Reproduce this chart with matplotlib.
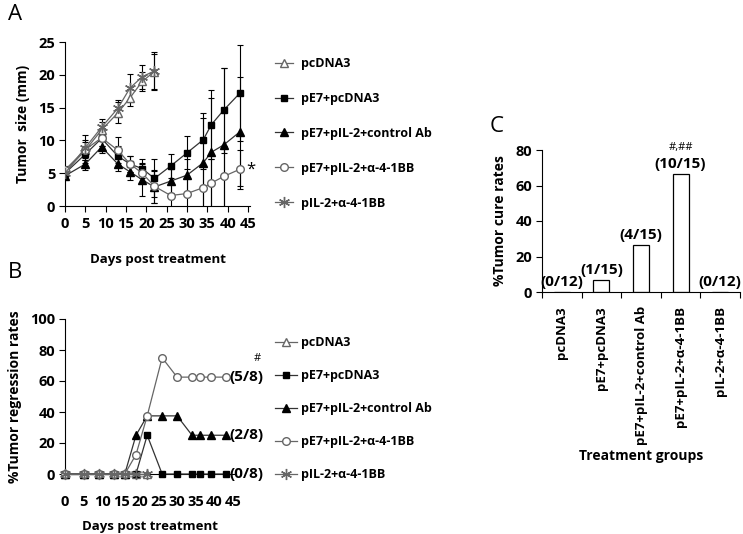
import matplotlib.pyplot as plt
import matplotlib.ticker as mticker

plt.rcParams['font.family'] = ['Open Sans', 'DejaVu Sans']
plt.rcParams['font.weight'] = 'bold'
plt.rcParams['font.size'] = 9

# ---- data ----
days = [0, 5, 9, 13, 16, 19, 22, 26, 30, 34, 36, 39, 43]
days_short = days[:7]

groups = ["pcDNA3", "pE7+pcDNA3", "pE7+pIL-2+control Ab",
          "pE7+pIL-2+\u03b1-4-1BB", "pIL-2+\u03b1-4-1BB"]

# panel A: tumor size (mm), mean and sd
size_pcdna3 = [5.2, 8.5, 11.6, 14.2, 16.5, 19.0, 20.5]
sd_pcdna3 = [0.6, 1.5, 1.2, 1.6, 1.3, 1.5, 2.7]
size_e7 = [5.0, 7.9, 10.3, 7.6, 6.4, 5.7, 4.2, 6.1, 8.1, 10.1, 12.4, 14.6, 17.2]
sd_e7 = [0.6, 1.3, 1.2, 1.5, 1.2, 1.5, 2.9, 1.9, 2.5, 4.1, 5.3, 6.5, 7.3]
size_ctrl = [4.6, 6.4, 9.0, 6.4, 5.2, 4.0, 2.9, 3.8, 4.7, 6.6, 8.2, 9.3, 11.3]
sd_ctrl = [0.5, 0.9, 0.9, 1.1, 1.3, 2.4, 2.4, 1.8, 2.5, 6.8, 8.3, 11.8, 8.3]
size_4_1bb = [5.5, 8.6, 10.4, 8.5, 6.4, 5.0, 3.0, 1.6, 1.9, 2.8, 3.5, 4.5, 5.6]
sd_4_1bb = [0.6, 1.2, 1.2, 2.0, 1.2, 1.5, 2.5, 1.7, 2.5, 2.9, 3.6, 4.6, 3.0]
size_il2 = [5.0, 8.9, 12.0, 14.9, 18.0, 19.7, 20.6]
sd_il2 = [0.6, 1.9, 1.3, 1.3, 2.1, 1.8, 2.9]

# panel B: % tumor regression
reg_pcdna3 = [0, 0, 0, 0, 0, 0, 0]
reg_e7 = [0, 0, 0, 0, 0, 0, 25, 0, 0, 0, 0, 0, 0]
reg_ctrl = [0, 0, 0, 0, 0, 25, 37.5, 37.5, 37.5, 25, 25, 25, 25]
reg_4_1bb = [0, 0, 0, 0, 0, 12.5, 37.5, 75, 62.5, 62.5, 62.5, 62.5, 62.5]
reg_il2 = [0, 0, 0, 0, 0, 0, 0]
reg_end_labels = ["(5/8)", "(2/8)", "(0/8)"]

# panel C: % tumor cure
cure = [0, 6.67, 26.67, 66.67, 0]
cure_labels = ["(0/12)", "(1/15)", "(4/15)", "(10/15)", "(0/12)"]

W, H = 743, 534
fig = plt.figure(figsize=(W / 100, H / 100), dpi=100)
TICK_FS = 10.5


def px_axes(x0, y_top, x1, y_bot):
    return fig.add_axes([x0 / W, 1 - y_bot / H, (x1 - x0) / W, (y_bot - y_top) / H])


def style_axes(ax):
    ax.spines['top'].set_visible(False)
    ax.spines['right'].set_visible(False)
    ax.tick_params(direction='out', length=4, width=0.8, pad=3, labelsize=TICK_FS)
    for lab in ax.get_xticklabels() + ax.get_yticklabels():
        lab.set_fontweight('bold')


gray = '#666666'
asterisk = (6, 2, 0)
series_style = [
    dict(marker='^', mfc='white', mec=gray, color=gray, ms=5.5),
    dict(marker='s', mfc='black', mec='black', color='#333333', ms=5),
    dict(marker='^', mfc='black', mec='black', color='#333333', ms=5.5),
    dict(marker='o', mfc='white', mec=gray, color=gray, ms=5.5),
    dict(marker=asterisk, mfc='none', mec=gray, color=gray, ms=8, mew=1.0),
]
legend_font = dict(family=['Open Sans', 'DejaVu Sans'], weight='bold', size=9)

# ---- panel A ----
axA = px_axes(65, 42, 250, 206)
a_data = [(days_short, size_pcdna3, sd_pcdna3), (days, size_e7, sd_e7),
          (days, size_ctrl, sd_ctrl), (days, size_4_1bb, sd_4_1bb),
          (days_short, size_il2, sd_il2)]
handlesA = []
for (x, y, e), st, name in zip(a_data, series_style, groups):
    axA.errorbar(x, y, yerr=e, fmt='none', ecolor='black', elinewidth=0.8,
                 capsize=2.5, capthick=0.8, zorder=2)
    h, = axA.plot(x, y, lw=0.9, label=name, zorder=3, **st)
    handlesA.append(h)
axA.set_xlim(0, 45.5)
axA.set_ylim(0, 25)
axA.set_xticks(range(0, 46, 5))
axA.set_yticks(range(0, 26, 5))
style_axes(axA)
axA.tick_params(axis='x', pad=4)
axA.set_xlabel("Days post treatment", fontweight='bold', fontsize=9.5, labelpad=16)
axA.set_ylabel("Tumor  size (mm)", fontweight='bold', fontsize=10, labelpad=6)
axA.text(44.5, size_4_1bb[-1], "*", fontsize=12, fontweight='normal', va='center', ha='left')
axA.legend(handles=handlesA, loc='upper left', bbox_to_anchor=(275 / W, 1 - 57 / H),
           bbox_transform=fig.transFigure, frameon=False, borderpad=0, borderaxespad=0,
           handlelength=1.45, handletextpad=0.6, labelspacing=1.75, prop=legend_font)
fig.text(8 / W, 1 - 15 / H, "A", fontsize=16, fontweight='normal', va='center')

# ---- panel B ----
axB = px_axes(65, 319, 235, 474)
b_data = [(days_short, reg_pcdna3), (days, reg_e7), (days, reg_ctrl),
          (days, reg_4_1bb), (days_short, reg_il2)]
handlesB = []
for (x, y), st, name in zip(b_data, series_style, groups):
    h, = axB.plot(x, y, lw=0.9, label=name, clip_on=False, zorder=3, **st)
    handlesB.append(h)
axB.set_xlim(0, 45.5)
axB.set_ylim(0, 100)
axB.set_xticks(range(0, 46, 5))
axB.set_yticks(range(0, 101, 20))
style_axes(axB)
axB.tick_params(axis='x', length=0, pad=15)
axB.set_xlabel("Days post treatment", fontweight='bold', fontsize=9.5, labelpad=8)
axB.set_ylabel("%Tumor regression rates", fontweight='bold', fontsize=10, labelpad=6)
for lab, yv in zip(reg_end_labels, [reg_4_1bb[-1], reg_ctrl[-1], reg_e7[-1]]):
    axB.text(44.0, yv, lab, fontsize=11, fontweight='bold', va='center', ha='left',
             clip_on=False)
axB.text(51.5, reg_4_1bb[-1] + 12, "#", fontsize=8, fontweight='normal', ha='center',
         va='center')
axB.legend(handles=handlesB, loc='upper left', bbox_to_anchor=(275 / W, 1 - 336 / H),
           bbox_transform=fig.transFigure, frameon=False, borderpad=0, borderaxespad=0,
           handlelength=1.75, handletextpad=0.35, labelspacing=1.6, prop=legend_font)
fig.text(8 / W, 1 - 272 / H, "B", fontsize=16, fontweight='normal', va='center')

# ---- panel C ----
axC = px_axes(542, 150, 740, 292)
xpos = range(len(groups))
axC.bar(xpos, cure, width=0.4, color='white', edgecolor='black', linewidth=0.9)
for xi, v, lab in zip(xpos, cure, cure_labels):
    axC.text(xi, v + 1.5, lab, ha='center', va='bottom', fontsize=11, fontweight='bold')
axC.text(3, cure[3] + 11.5, "#,##", ha='center', va='bottom', fontsize=8,
         fontweight='normal')
axC.set_xlim(-0.5, 4.5)
axC.set_ylim(0, 80)
axC.set_yticks(range(0, 81, 20))
axC.set_xticks(list(xpos))
axC.set_xticklabels(groups, rotation=90)
axC.xaxis.set_minor_locator(mticker.FixedLocator([i - 0.5 for i in range(6)]))
style_axes(axC)
axC.tick_params(axis='x', which='major', length=0, pad=10, labelsize=9.5)
axC.tick_params(axis='x', which='minor', length=4, width=0.8, direction='out')
axC.set_xlabel("Treatment groups", fontweight='bold', fontsize=10, labelpad=3)
axC.set_ylabel("%Tumor cure rates", fontweight='bold', fontsize=10, labelpad=6)
fig.text(490 / W, 1 - 127 / H, "C", fontsize=16, fontweight='normal', va='center')

fig.savefig("out.png", dpi=100)
